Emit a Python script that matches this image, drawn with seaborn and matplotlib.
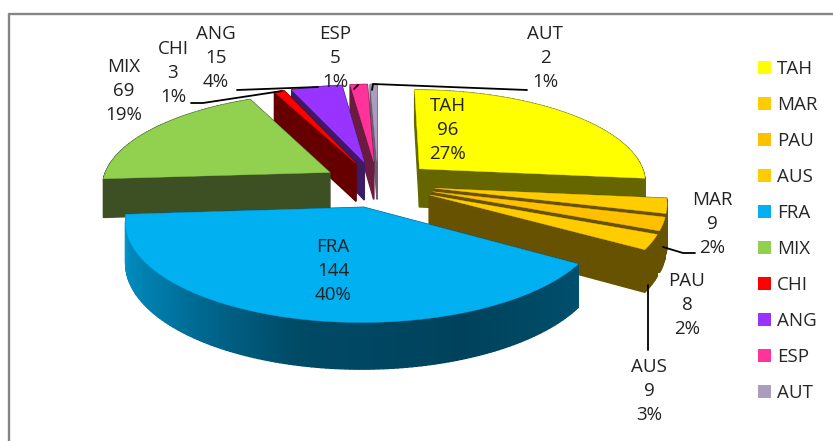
import numpy as np
import matplotlib
matplotlib.use('Agg')
import matplotlib.pyplot as plt
from matplotlib.patches import Patch, Polygon
import seaborn as sns

categories = ['TAH', 'MAR', 'PAU', 'AUS', 'FRA', 'MIX', 'CHI', 'ANG', 'ESP', 'AUT']
values = [96, 9, 8, 9, 144, 69, 3, 15, 5, 2]
percents = [27, 2, 2, 3, 40, 19, 1, 4, 1, 1]

top_colors = ['#FFFF00', '#FFCC00', '#FFC000', '#FFCC00', '#00B0F0',
              '#92D050', '#FF0000', '#9933FF', '#FF3399', '#AC9CC0']
wall_colors = ['#666600', '#665200', '#665200', '#665200', '#00577A',
               '#3C5024', '#660000', '#3D1A66', '#6B1A40', '#66606E']

# centre of each label in pixels
label_pos = {'TAH': (448, 130), 'MAR': (712, 224), 'PAU': (687, 305), 'AUS': (649, 391),
             'FRA': (333, 271), 'MIX': (124, 91), 'CHI': (173, 73), 'ANG': (216, 58),
             'ESP': (335, 58), 'AUT': (545, 58)}

leaders = [[(191, 103), (203, 103), (282, 91)],
           [(237, 90), (318, 87)],
           [(358, 85), (354, 89)],
           [(372, 90), (373, 84), (527, 90)],
           [(663, 247), (683, 253), (695, 253)],
           [(648, 285), (648, 350)]]

sns.set_theme(style='white')
plt.rcParams['font.family'] = ['Open Sans', 'DejaVu Sans']

# projection of the tilted pie
cx, cy = 378, 184
rx, ry = 228, 93
persp = 0.133
explode = 0.25
depth = 39


def project(X, Y, down=0.0):
    s = 1 / (1 - persp * Y)
    return cx + rx * X * s, cy + ry * Y * s + down * depth * s


fig = plt.figure(figsize=(8.33, 4.41), dpi=100)
ax = fig.add_axes([0, 0, 1, 1])
ax.set_xlim(0, 833)
ax.set_ylim(441, 0)
ax.axis('off')

# chart frame
ax.plot([9.5, 9.5, 833], [441, 14, 14], color='#868686', lw=1.7, zorder=1)

edges = np.cumsum([0] + values) / sum(values) * 2 * np.pi


def slice_points(i):
    mid = (edges[i] + edges[i + 1]) / 2
    ax0, ay0 = explode * np.sin(mid), -explode * np.cos(mid)
    t = np.linspace(edges[i], edges[i + 1], max(4, values[i]))
    return ax0, ay0, ax0 + np.sin(t), ay0 - np.cos(t)


def draw_quad(X, Y, color, z):
    px, py = project(X, Y)
    qx, qy = project(X[::-1], Y[::-1], 1.0)
    pts = np.column_stack([np.r_[px, qx], np.r_[py, qy]])
    ax.add_patch(Polygon(pts, closed=True, fc=color, ec=color, lw=1.0, zorder=z))


# back slices first, front ones last
order = [0, 9, 8, 7, 6, 5, 1, 2, 3, 4]
fra_cmap = sns.blend_palette(['#0096CC', '#0078A6', '#004A66', '#00425C', '#00506E'], as_cmap=True)

for n, i in enumerate(order):
    ax0, ay0, xs, ys = slice_points(i)
    z = 2 + n
    # radial sides
    for k in (0, -1):
        draw_quad(np.array([ax0, xs[k]]), np.array([ay0, ys[k]]), wall_colors[i], z)
    # rim, split up so the big slice can carry the shading
    for j in range(len(xs) - 1):
        c = wall_colors[i]
        if categories[i] == 'FRA':
            c = fra_cmap(1 - (j + 0.5) / (len(xs) - 1))
        draw_quad(xs[j:j + 2], ys[j:j + 2], c, z)
    px, py = project(np.r_[ax0, xs], np.r_[ay0, ys])
    ax.add_patch(Polygon(np.column_stack([px, py]), closed=True, fc=top_colors[i],
                         ec=top_colors[i], lw=0.3, zorder=z))

for line in leaders:
    lx, ly = zip(*line)
    ax.plot(lx, ly, color='black', lw=1.3, zorder=30)

for name, v, p in zip(categories, values, percents):
    x, y = label_pos[name]
    ax.text(x, y, f'{name}\n{v}\n{p}%', ha='center', va='center', fontsize=13.5,
            color='#222222', linespacing=1.45, zorder=40)

handles = [Patch(fc=c, ec='none', label=n) for n, c in zip(categories, top_colors)]
ax.legend(handles=handles, loc='center left', bbox_to_anchor=(758 / 833, 1 - 231 / 441),
          frameon=False, fontsize=13.5, handlelength=0.69, handleheight=0.69,
          handletextpad=0.32, labelspacing=0.96, borderpad=0, borderaxespad=0)

fig.savefig('out.png', dpi=100)
